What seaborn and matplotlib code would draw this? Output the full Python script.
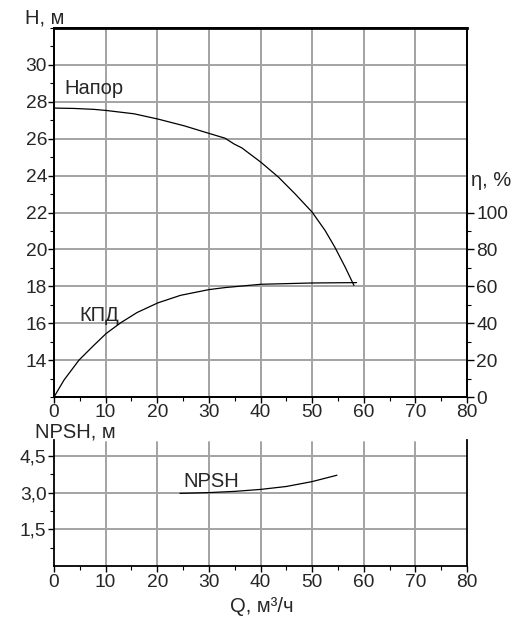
import matplotlib
matplotlib.use("Agg")
import matplotlib.pyplot as plt
import seaborn as sns
import pandas as pd
from matplotlib.ticker import MultipleLocator, FixedLocator, FuncFormatter

# ---- data ----
q_head = [0, 3.9, 7.75, 10.1, 15.5, 20.2, 25.2, 30, 33.1, 34.9, 36.4, 40.1, 43.5,
          46.7, 50, 52.5, 54.4, 56.4, 58.1]
head = [27.66, 27.64, 27.59, 27.53, 27.35, 27.06, 26.70, 26.29, 26.03, 25.71, 25.5,
        24.72, 23.91, 23.01, 22.02, 21.03, 20.12, 19.04, 18.05]

q_eff = [0, 1.94, 4.84, 7.75, 10.1, 12.9, 16.1, 20.1, 24.5, 30, 33.1, 40.1, 50, 58.6]
eff = [0, 9.2, 20, 28.1, 34.4, 40.2, 45.8, 51.0, 55.1, 58.2, 59.3, 61.1, 61.8, 62.0]

q_npsh = [24.4, 30, 35, 40, 45, 50, 54.8]
npsh = [2.97, 3.0, 3.05, 3.13, 3.25, 3.45, 3.71]

q_ticks = [0, 10, 20, 30, 40, 50, 60, 70, 80]
h_ticks = [14, 16, 18, 20, 22, 24, 26, 28, 30]
eta_ticks = [0, 20, 40, 60, 80, 100]
npsh_ticks = [1.5, 3.0, 4.5]

df_head = pd.DataFrame({"Q": q_head, "H": head})
df_eff = pd.DataFrame({"Q": q_eff, "eta": eff})
df_npsh = pd.DataFrame({"Q": q_npsh, "NPSH": npsh})

sns.set_theme(style="white")
plt.rcParams["font.family"] = ["Liberation Sans", "DejaVu Sans"]
FS = 14.5
TFS = 13.8

W, H = 518, 622
fig = plt.figure(figsize=(W / 100, H / 100), dpi=100)

def fx(px):
    return px / W

def fy(py):
    return 1 - py / H

grid_kw = dict(color="#a3a3a3", linewidth=1.4)

# ---- top axes ----
ax = fig.add_axes([fx(54), fy(397), fx(467) - fx(54), fy(28) - fy(397)])
ax2 = ax.twinx()
sns.lineplot(data=df_head, x="Q", y="H", ax=ax, color="black", linewidth=0.9)
sns.lineplot(data=df_eff, x="Q", y="eta", ax=ax2, color="black", linewidth=0.9)
ax.set_xlim(0, 80)
ax.set_ylim(12, 32)
ax2.set_ylim(0, 200)
ax.xaxis.set_major_locator(FixedLocator(q_ticks))
ax.xaxis.set_minor_locator(MultipleLocator(5))
ax.yaxis.set_major_locator(FixedLocator(h_ticks))
ax.yaxis.set_minor_locator(MultipleLocator(1))
ax2.yaxis.set_major_locator(FixedLocator(eta_ticks))
ax2.yaxis.set_minor_locator(FixedLocator(list(range(10, 100, 20))))
for q in q_ticks[1:-1]:
    ax.axvline(q, zorder=0, **grid_kw)
for h in h_ticks:
    ax.axhline(h, zorder=0, **grid_kw)
ax.set_xlabel("")
ax.set_ylabel("")
ax2.set_ylabel("")
for a in (ax, ax2):
    for s in a.spines.values():
        s.set_color("black")
        s.set_linewidth(1.3)
ax.spines["top"].set_linewidth(2.0)
ax.tick_params(axis="both", which="major", direction="out", length=4, width=1,
               color="black", labelsize=TFS, pad=1, bottom=True, left=True)
ax.tick_params(axis="both", which="minor", direction="out", length=3, width=0.8,
               color="black", bottom=True, left=True)
ax2.tick_params(axis="y", which="major", direction="out", length=5, width=1,
                color="black", labelsize=TFS, pad=1.5, right=True)
ax2.tick_params(axis="y", which="minor", direction="out", length=3, width=0.8,
                color="black", right=True)
ax.text(2.1, 28.7, "Напор", fontsize=FS, ha="left", va="center")
ax.text(5.0, 16.43, "КПД", fontsize=FS, ha="left", va="center")

# ---- bottom axes ----
bx = fig.add_axes([fx(54), fy(566), fx(467) - fx(54), fy(440) - fy(566)])
sns.lineplot(data=df_npsh, x="Q", y="NPSH", ax=bx, color="black", linewidth=0.9)
bx.set_xlim(0, 80)
bx.set_ylim(0, 5.15)
bx.xaxis.set_major_locator(FixedLocator(q_ticks))
bx.xaxis.set_minor_locator(MultipleLocator(5))
bx.yaxis.set_major_locator(FixedLocator(npsh_ticks))
bx.yaxis.set_minor_locator(FixedLocator([0.75, 2.25, 3.75]))
bx.yaxis.set_major_formatter(FuncFormatter(lambda v, p: f"{v:.1f}".replace(".", ",")))
for q in q_ticks[1:-1]:
    bx.axvline(q, ymax=0.985, zorder=0, **grid_kw)
for v in npsh_ticks:
    bx.axhline(v, zorder=0, **grid_kw)
bx.set_xlabel("")
bx.set_ylabel("")
bx.spines["top"].set_visible(False)
for k in ("left", "right", "bottom"):
    bx.spines[k].set_color("black")
    bx.spines[k].set_linewidth(1.3)
bx.tick_params(axis="both", which="major", direction="out", length=4, width=1,
               color="black", labelsize=TFS, pad=1.5, bottom=True, left=True)
bx.tick_params(axis="both", which="minor", direction="out", length=3, width=0.8,
               color="black", bottom=True, left=True)
bx.text(25, 3.44, "NPSH", fontsize=FS, ha="left", va="center")

# ---- axis titles ----
fig.text(fx(25), fy(18), "H, м", fontsize=FS, ha="left", va="center")
fig.text(fx(471), fy(180), "η, %", fontsize=FS, ha="left", va="center")
fig.text(fx(35), fy(432.5), "NPSH, м", fontsize=FS, ha="left", va="center")
fig.text(fx(262), fy(607), "Q, м³/ч", fontsize=FS, ha="center", va="center")

fig.savefig("out.png", dpi=100, facecolor="white")
